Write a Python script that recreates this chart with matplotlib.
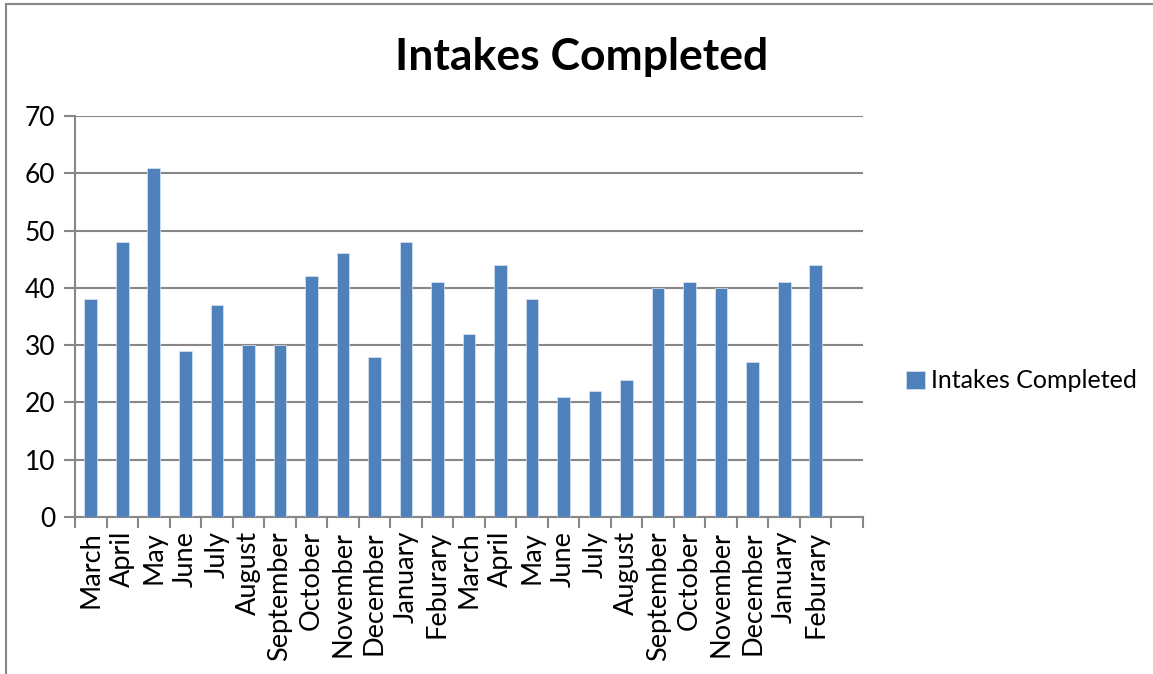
import matplotlib
matplotlib.use("Agg")
import matplotlib.pyplot as plt
from matplotlib.lines import Line2D

months = ["March", "April", "May", "June", "July", "August", "September",
          "October", "November", "December", "January", "Feburary",
          "March", "April", "May", "June", "July", "August", "September",
          "October", "November", "December", "January", "Feburary", ""]
intakes = [38, 48, 61, 29, 37, 30, 30, 42, 46, 28, 48, 41,
           32, 44, 38, 21, 22, 24, 40, 41, 40, 27, 41, 44]
series_name = "Intakes Completed"
yticks = [0, 10, 20, 30, 40, 50, 60, 70]

plt.rcParams['font.family'] = ['Lato', 'DejaVu Sans']
grey = "#878787"
bar_color = "#4F81BD"

fig = plt.figure(figsize=(11.53, 6.74), dpi=100)
ax = fig.add_axes([75/1153, 1-517/674, (863-75)/1153, (517-116)/674])

x = list(range(len(intakes)))
ax.bar(x, intakes, width=0.4, color=bar_color, edgecolor="#dce6f2", linewidth=0.5,
       label=series_name, zorder=3)

ax.set_xlim(-0.5, len(months) - 0.5)
ax.set_ylim(0, 70)
ax.set_yticks(yticks)
ax.set_yticklabels([str(v) for v in yticks], fontsize=19)
ax.set_xticks(range(len(months)))
ax.set_xticklabels(months, rotation=90, fontsize=19.5)
ax.set_xticks([i - 0.5 for i in range(len(months) + 1)], minor=True)
ax.tick_params(axis='x', which='major', length=0, pad=10)
ax.tick_params(axis='x', which='minor', length=8, width=1.5, color=grey, direction='out')
ax.tick_params(axis='y', length=8, width=1.5, color=grey, pad=6)

ax.yaxis.grid(True, color=grey, linewidth=1.5, zorder=0)
ax.set_axisbelow(True)
for s in ['top', 'right']:
    ax.spines[s].set_visible(False)
for s in ['left', 'bottom']:
    ax.spines[s].set_color(grey)
    ax.spines[s].set_linewidth(1.5)

fig.text(582/1153, 1-57/674, "Intakes Completed", ha='center', va='center',
         fontsize=32, fontweight='bold')

leg = fig.legend(loc='center left', bbox_to_anchor=(896/1153, 1-381/674),
                 frameon=False, fontsize=18, handlelength=0.75, handleheight=0.75,
                 handletextpad=0.25, borderaxespad=0)

# outer chart frame
fig.add_artist(Line2D([6/1153, 1], [1-4/674, 1-4/674], color=grey, linewidth=1.5,
                      transform=fig.transFigure))
fig.add_artist(Line2D([6/1153, 6/1153], [0, 1-4/674], color=grey, linewidth=1.5,
                      transform=fig.transFigure))

fig.savefig("out.png", dpi=100)
